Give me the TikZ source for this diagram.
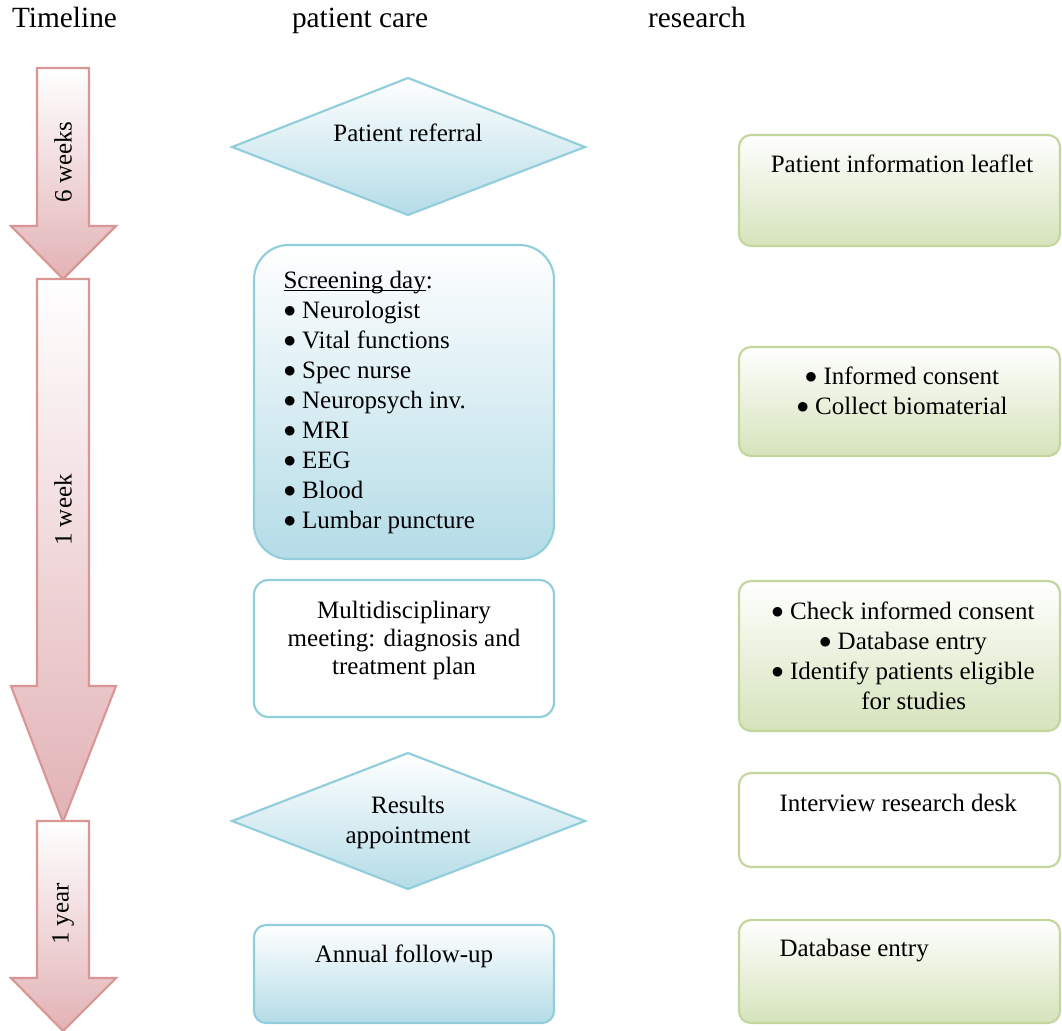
\documentclass[tikz,border=0pt]{standalone}
\usepackage{fontspec}
\usepackage{graphicx}
\setmainfont{Liberation Serif}

\definecolor{arrowline}{RGB}{217,150,148}
\definecolor{arrowfill}{RGB}{226,178,182}
\definecolor{careline}{RGB}{146,205,220}
\definecolor{carefill}{RGB}{180,220,231}
\definecolor{resline}{RGB}{195,214,155}
\definecolor{resfill}{RGB}{213,227,187}

\newlength\ulwd
\newcommand\wordul[1]{\settowidth\ulwd{#1}\rlap{\rule[-1.8pt]{\ulwd}{0.9pt}}#1}
\newcommand\bul{\raisebox{0.05em}{\scalebox{1.08}{$\bullet$}}}

\tikzset{every picture/.style={line width=0.75pt}}
\tikzset{
  timearrow/.style={draw=arrowline, line width=1.6pt, top color=white, bottom color=arrowfill},
  caresh/.style={draw=careline, line width=1.6pt, top color=white, bottom color=carefill},
  careplain/.style={draw=careline, line width=1.6pt, fill=white},
  ressh/.style={draw=resline, line width=1.6pt, top color=white, bottom color=resfill},
  resplain/.style={draw=resline, line width=1.6pt, fill=white},
  body/.style={font=\fontsize{18.75}{22.5}\selectfont, inner sep=0pt, align=center},
  head/.style={font=\fontsize{22}{26}\selectfont, inner sep=0pt, anchor=base},
}

\begin{document}
\begin{tikzpicture}[x=0.75pt,y=0.75pt,yscale=-1,xscale=1]
\useasboundingbox (0,0) rectangle (1062,1030);
\clip (0,0) rectangle (1062,1030);

%Shape: Down Arrow [6 weeks]
\draw [timearrow] (37,68) -- (89,68) -- (89,226) -- (116,226) -- (63,279) -- (11,226) -- (37,226) -- cycle ;
%Shape: Down Arrow [1 week]
\draw [timearrow] (37,279) -- (89,279) -- (89,686) -- (116,686) -- (63,822) -- (11,686) -- (37,686) -- cycle ;
%Shape: Down Arrow [1 year]
\draw [timearrow] (37,821) -- (89,821) -- (89,978) -- (116,978) -- (63,1031) -- (11,978) -- (37,978) -- cycle ;

%Shape: Diamond [referral]
\draw [caresh] (232,147) -- (408,78) -- (585,147) -- (408,215) -- cycle ;
%Shape: Rounded Rect [screening]
\draw [caresh, rounded corners=26pt] (254,245) rectangle (554,559) ;
%Shape: Rounded Rect [meeting]
\draw [careplain, rounded corners=11pt] (254,580) rectangle (554,717) ;
%Shape: Diamond [results]
\draw [caresh] (232,821) -- (408,753) -- (585,821) -- (408,889) -- cycle ;
%Shape: Rounded Rect [follow-up]
\draw [caresh, rounded corners=9pt] (254,925) rectangle (554,1023) ;

%Shape: Rounded Rect [leaflet]
\draw [ressh, rounded corners=9pt] (739,135) rectangle (1060,246) ;
%Shape: Rounded Rect [consent]
\draw [ressh, rounded corners=9pt] (739,347) rectangle (1060,456) ;
%Shape: Rounded Rect [check]
\draw [ressh, rounded corners=9pt] (739,581) rectangle (1060,731) ;
%Shape: Rounded Rect [interview]
\draw [resplain, rounded corners=9pt] (739,773) rectangle (1060,867) ;
%Shape: Rounded Rect [database]
\draw [ressh, rounded corners=9pt] (739,920) rectangle (1060,1023) ;

% Text Node
\draw (64.5,28) node (timeline) [head] {Timeline};
% Text Node
\draw (360,28) node (care) [head] {patient care};
% Text Node
\draw (697,28) node (research) [head] {research};
% Text Node
\draw (63,162) node (sixweeks) [body, rotate=90] {6 weeks};
% Text Node
\draw (63,510) node (oneweek) [body, rotate=90] {1 week};
% Text Node
\draw (63,914) node (oneyear) [body, rotate=90] {1 year};
% Text Node
\draw (408,142) node (referral) [body, anchor=base] {Patient referral};
% Text Node
\draw (283,271) node (screening) [body, anchor=north west, align=left] {\wordul{Screening day}:\\\bul{} Neurologist\\\bul{} Vital functions\\\bul{} Spec nurse\\\bul{} Neuropsych inv.\\\bul{} MRI\\\bul{} EEG\\\bul{} Blood\\\bul{} Lumbar puncture};
% Text Node
\draw (404,640) node (meeting) [body, font=\fontsize{18.75}{21}\selectfont] {Multidisciplinary\\meeting: diagnosis and\\treatment plan};
% Text Node
\draw (408,822) node (results) [body] {Results\\appointment};
% Text Node
\draw (404,962) node (followup) [body, anchor=base] {Annual follow-up};
% Text Node
\draw (902,173) node (leaflet) [body, anchor=base] {Patient information leaflet};
% Text Node
\draw (902,391) node (consent) [body] {\bul{} Informed consent\\\bul{} Collect biomaterial};
% Text Node
\draw (903,656) node (check) [body] {\bul{} Check informed consent\\\bul{} Database entry\\\bul{} Identify patients eligible\\\hspace*{16pt}for studies};
% Text Node
\draw (779,811) node (interview) [body, anchor=base west] {Interview research desk};
% Text Node
\draw (779,956) node (database) [body, anchor=base west] {Database entry};

\end{tikzpicture}
\end{document}
